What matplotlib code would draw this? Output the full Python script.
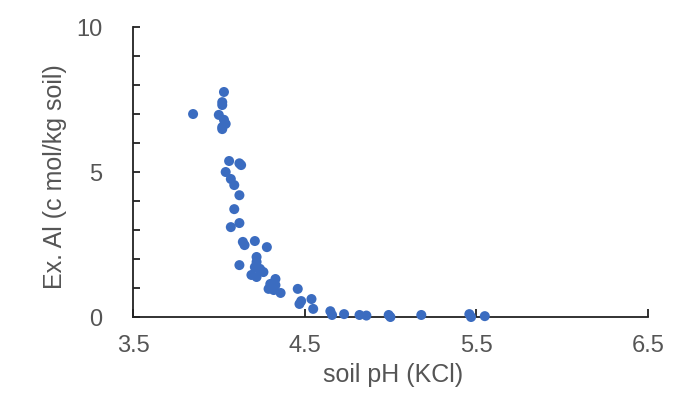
import matplotlib
matplotlib.use("Agg")
import matplotlib.pyplot as plt
from matplotlib.ticker import MultipleLocator

plt.rcParams['font.family'] = ['Liberation Sans', 'DejaVu Sans']

# soil pH (KCl) and exchangeable Al readings
ph = [3.85, 4.03, 4.02, 4.02, 4.00, 4.03, 4.04, 4.02, 4.02,
      4.06, 4.13, 4.12, 4.04, 4.07, 4.09, 4.12, 4.09, 4.12, 4.07,
      4.14, 4.15, 4.21, 4.28, 4.12,
      4.22, 4.22, 4.21, 4.26, 4.19, 4.22, 4.24,
      4.33, 4.30, 4.33, 4.29, 4.32, 4.36,
      4.46, 4.47, 4.48, 4.54, 4.55,
      4.65, 4.66, 4.73, 4.82, 4.86, 4.99, 5.00, 5.18, 5.46, 5.47, 5.55]
al = [7.0, 7.76, 7.41, 7.31, 6.97, 6.80, 6.66, 6.55, 6.48,
      5.38, 5.24, 5.30, 5.00, 4.76, 4.55, 4.20, 3.72, 3.24, 3.10,
      2.59, 2.48, 2.62, 2.41, 1.79,
      2.07, 1.90, 1.72, 1.55, 1.45, 1.38, 1.66,
      1.31, 1.14, 1.10, 0.97, 0.93, 0.83,
      0.97, 0.45, 0.55, 0.62, 0.28,
      0.20, 0.07, 0.10, 0.07, 0.05, 0.07, 0.0, 0.07, 0.10, 0.0, 0.03]

x_ticks = [3.5, 4.5, 5.5, 6.5]

fig = plt.figure(figsize=(6.91, 3.94), dpi=100)
ax = fig.add_axes([0.1925, 0.1954, 0.745, 0.736])

ax.scatter(ph, al, s=52, color='#3b6cc0', edgecolors='none', clip_on=False, zorder=3)

ax.set_xlim(3.5, 6.5)
ax.set_ylim(0, 10)
ax.set_xticks(x_ticks)
ax.yaxis.set_major_locator(MultipleLocator(5))
ax.yaxis.set_minor_locator(MultipleLocator(1))

for s in ['top', 'right']:
    ax.spines[s].set_visible(False)
for s in ['left', 'bottom']:
    ax.spines[s].set_color('#222222')
    ax.spines[s].set_linewidth(1.3)

ax.tick_params(axis='x', direction='in', length=6, width=1.3, color='#222222',
               labelsize=17, labelcolor='#555555', pad=13)
ax.tick_params(axis='y', which='both', direction='in', length=5, width=1.3,
               color='#222222', labelsize=17, labelcolor='#555555', pad=22)

ax.set_xlabel('soil pH (KCl)', fontsize=18, color='#555555')
ax.set_ylabel('Ex. Al (c mol/kg soil)', fontsize=18, color='#555555')
ax.xaxis.set_label_coords(0.505, -0.159)
ax.yaxis.set_label_coords(-0.128, 0.483)

fig.savefig('out.png', dpi=100, facecolor='white')
